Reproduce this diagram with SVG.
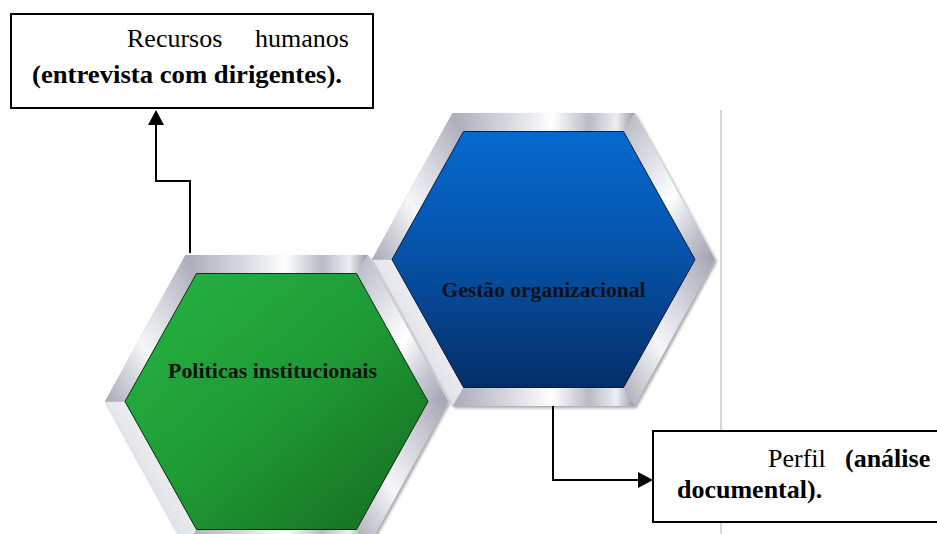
<svg xmlns="http://www.w3.org/2000/svg" xmlns:xlink="http://www.w3.org/1999/xlink" width="937" height="534" viewBox="0 0 937 534">
  <style>
    .box { fill: #ffffff; stroke: #000000; stroke-width: 2; }
    .txt { font-family: "Liberation Serif", "Times New Roman", serif; font-size: 26px; fill: #000000; }
    .bold { font-weight: bold; }
    .hex-label { font-family: "Liberation Serif", "Times New Roman", serif; font-size: 20px; font-weight: bold; text-anchor: middle; }
    .conn { fill: none; stroke: #000000; stroke-width: 2; }
    .rule { stroke: #c9c9c9; stroke-width: 1.5; }
  </style>
  <defs>
    <!-- chrome bevel shading for the hexagon frames -->
    <linearGradient id="chromeH" x1="0" y1="0" x2="1" y2="0">
      <stop offset="0" stop-color="#a9abb8"/>
      <stop offset="0.3" stop-color="#d6d7de"/>
      <stop offset="0.55" stop-color="#ffffff"/>
      <stop offset="0.75" stop-color="#b8bac6"/>
      <stop offset="0.9" stop-color="#eeeef2"/>
      <stop offset="1" stop-color="#9799a8"/>
    </linearGradient>
    <linearGradient id="chromeD1" x1="0" y1="0" x2="1" y2="1">
      <stop offset="0" stop-color="#b4b6c2"/>
      <stop offset="0.35" stop-color="#e4e5ea"/>
      <stop offset="0.55" stop-color="#ffffff"/>
      <stop offset="0.8" stop-color="#c2c4ce"/>
      <stop offset="1" stop-color="#9fa1b0"/>
    </linearGradient>
    <linearGradient id="chromeD2" x1="1" y1="0" x2="0" y2="1">
      <stop offset="0" stop-color="#a4a6b4"/>
      <stop offset="0.4" stop-color="#dcdde4"/>
      <stop offset="0.6" stop-color="#f7f7f9"/>
      <stop offset="1" stop-color="#a7a9b7"/>
    </linearGradient>
    <linearGradient id="chromeL" x1="0" y1="1" x2="1" y2="0">
      <stop offset="0" stop-color="#9a9cab"/>
      <stop offset="0.45" stop-color="#e2e3e8"/>
      <stop offset="0.7" stop-color="#f2f2f5"/>
      <stop offset="1" stop-color="#c6c8d1"/>
    </linearGradient>
    <linearGradient id="greenFill" x1="0" y1="0" x2="1" y2="1">
      <stop offset="0" stop-color="#25b443"/>
      <stop offset="0.5" stop-color="#1f9a35"/>
      <stop offset="1" stop-color="#156a1e"/>
    </linearGradient>
    <linearGradient id="blueFill" x1="0" y1="0" x2="0" y2="1">
      <stop offset="0" stop-color="#0669cf"/>
      <stop offset="0.5" stop-color="#0652a6"/>
      <stop offset="1" stop-color="#042d68"/>
    </linearGradient>
    <filter id="shadow" x="-10%" y="-10%" width="125%" height="125%">
      <feDropShadow dx="2" dy="2" stdDeviation="1.5" flood-color="#000000" flood-opacity="0.35"/>
    </filter>
    <!-- six bevel segments of a hexagon frame, centred on 0,0 -->
    <g id="frame">
      <polygon points="-91,-146.5 91,-146.5 80,-128 -80,-128" fill="url(#chromeH)"/>
      <polygon points="91,-146.5 171.5,0 151.5,0 80,-128" fill="url(#chromeD1)"/>
      <polygon points="171.5,0 91,146.5 80,128 151.5,0" fill="url(#chromeD2)"/>
      <polygon points="91,146.5 -91,146.5 -80,128 80,128" fill="url(#chromeH)"/>
      <polygon points="-91,146.5 -171.5,0 -151.5,0 -80,128" fill="url(#chromeL)"/>
      <polygon points="-171.5,0 -91,-146.5 -80,-128 -151.5,0" fill="url(#chromeD2)"/>
    </g>
    <polygon id="hexInner" points="-151.5,0 -80,-128 80,-128 151.5,0 80,128 -80,128"/>
    <polygon id="hexOuter" points="-171.5,0 -91,-146.5 91,-146.5 171.5,0 91,146.5 -91,146.5"/>
    <marker id="arrow" markerUnits="userSpaceOnUse" markerWidth="16" markerHeight="17" refX="0" refY="8" orient="auto" viewBox="0 0 16 17">
      <path d="M0,0 L15,8 L0,16 Z" fill="#000000"/>
    </marker>
  </defs>

  <rect width="937" height="534" fill="#ffffff"/>

  <!-- page rule on the right -->
  <line class="rule" x1="721" y1="110" x2="721" y2="534"/>

  <!-- hexagon: Gestão organizacional -->
  <g id="gestao" transform="translate(543.5,259.5)">
    <use xlink:href="#hexOuter" fill="#b0b2be" filter="url(#shadow)"/>
    <use xlink:href="#frame"/>
    <use xlink:href="#hexInner" fill="url(#blueFill)" stroke="#0a1d3d" stroke-width="1"/>
    <text class="hex-label" x="0" y="37.5" fill="#07101c" textLength="204" lengthAdjust="spacingAndGlyphs">Gestão organizacional</text>
  </g>

  <!-- hexagon: Politicas institucionais -->
  <g id="politicas" transform="translate(276.5,401.5)">
    <use xlink:href="#hexOuter" fill="#b0b2be" filter="url(#shadow)"/>
    <use xlink:href="#frame"/>
    <use xlink:href="#hexInner" fill="url(#greenFill)" stroke="#0d2e10" stroke-width="1"/>
    <text class="hex-label" x="-4" y="-23.5" fill="#08140a" textLength="209" lengthAdjust="spacingAndGlyphs">Politicas institucionais</text>
  </g>

  <!-- connectors -->
  <g id="connectors">
    <path class="conn" d="M190,253 V181 H156 V125" marker-end="url(#arrow)"/>
    <path class="conn" d="M553,406 V480 H638" marker-end="url(#arrow)"/>
  </g>

  <!-- box: Recursos humanos -->
  <g id="recursos">
    <rect class="box" x="11" y="14" width="362" height="94"/>
    <text class="txt" y="47"><tspan x="127">Recursos</tspan><tspan x="255">humanos</tspan></text>
    <text class="txt bold" x="32" y="83" textLength="310" lengthAdjust="spacingAndGlyphs">(entrevista com dirigentes).</text>
  </g>

  <!-- box: Perfil -->
  <g id="perfil">
    <rect class="box" x="653" y="431" width="300" height="91"/>
    <text class="txt" y="467"><tspan x="768">Perfil</tspan><tspan x="845" class="bold">(análise</tspan></text>
    <text class="txt bold" x="677" y="498">documental).</text>
  </g>
</svg>
